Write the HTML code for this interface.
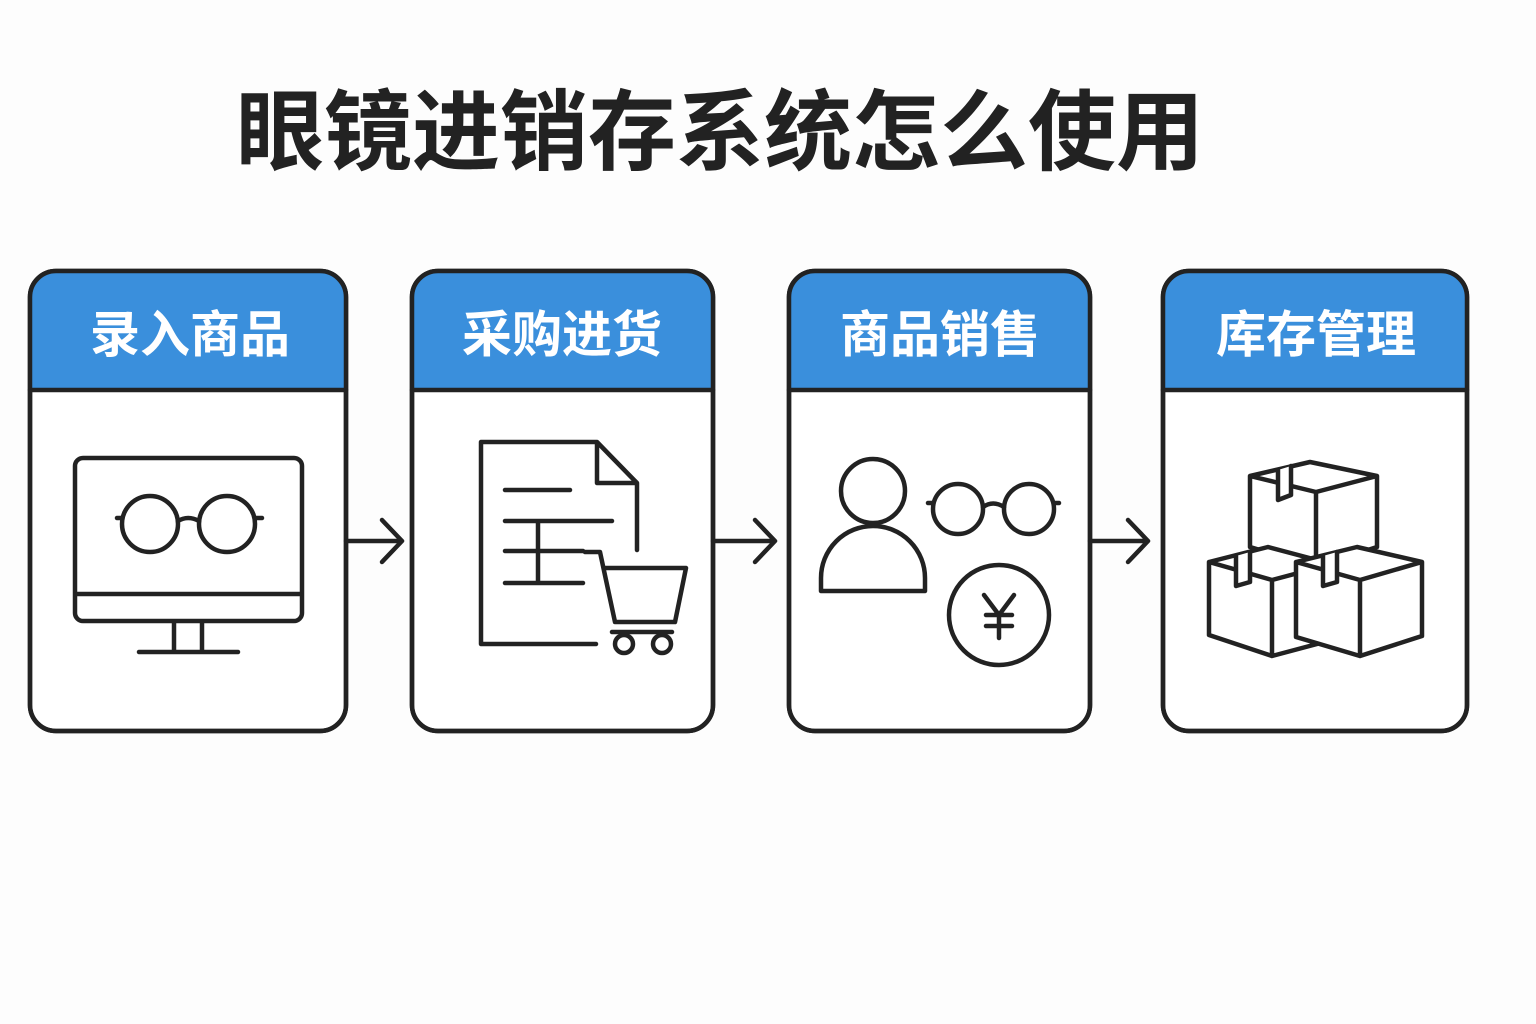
<!DOCTYPE html>
<html><head><meta charset="utf-8"><style>
html,body{margin:0;padding:0;background:#fdfdfd;}
svg{display:block}
text{font-family:"Liberation Sans","Noto Sans CJK SC",sans-serif;font-weight:bold}
</style></head><body>
<svg width="1536" height="1024" viewBox="0 0 1536 1024" xmlns="http://www.w3.org/2000/svg">
<rect width="1536" height="1024" fill="#fdfdfd"/>
<text x="720" y="163" font-size="88" fill="#222" text-anchor="middle" textLength="968" lengthAdjust="spacingAndGlyphs">眼镜进销存系统怎么使用</text>
<defs>
<clipPath id="c1"><rect x="30" y="271" width="316" height="460" rx="26"/></clipPath>
<clipPath id="c2"><rect x="412" y="271" width="301" height="460" rx="26"/></clipPath>
<clipPath id="c3"><rect x="789" y="271" width="301" height="460" rx="26"/></clipPath>
<clipPath id="c4"><rect x="1163" y="271" width="304" height="460" rx="26"/></clipPath>
</defs>
<g stroke="#222" stroke-width="4.5" fill="none" stroke-linecap="round" stroke-linejoin="round">
<rect x="30" y="271" width="316" height="460" rx="26" fill="#fff"/>
<rect x="30" y="271" width="316" height="119" fill="#3a8fdc" clip-path="url(#c1)" stroke="none"/>
<rect x="412" y="271" width="301" height="460" rx="26" fill="#fff"/>
<rect x="412" y="271" width="301" height="119" fill="#3a8fdc" clip-path="url(#c2)" stroke="none"/>
<rect x="789" y="271" width="301" height="460" rx="26" fill="#fff"/>
<rect x="789" y="271" width="301" height="119" fill="#3a8fdc" clip-path="url(#c3)" stroke="none"/>
<rect x="1163" y="271" width="304" height="460" rx="26" fill="#fff"/>
<rect x="1163" y="271" width="304" height="119" fill="#3a8fdc" clip-path="url(#c4)" stroke="none"/>
<rect x="30" y="271" width="316" height="460" rx="26"/>
<rect x="412" y="271" width="301" height="460" rx="26"/>
<rect x="789" y="271" width="301" height="460" rx="26"/>
<rect x="1163" y="271" width="304" height="460" rx="26"/>
<line x1="30" y1="390" x2="346" y2="390"/><line x1="412" y1="390" x2="713" y2="390"/>
<line x1="789" y1="390" x2="1090" y2="390"/><line x1="1163" y1="390" x2="1467" y2="390"/>
<path d="M346 541H402M382 520L402 541L382 562"/>
<path d="M713 541H773M755 520L775 541L755 562"/>
<path d="M1090 541H1148M1128 520L1148 541L1128 562"/>
<rect x="75" y="458" width="227" height="163" rx="8"/>
<line x1="77" y1="594" x2="300" y2="594"/>
<path d="M174 623V651M202 623V651M139 652H238"/>
<circle cx="150" cy="524" r="28"/><circle cx="227" cy="524" r="28"/>
<path d="M178 521Q188 515 199 521M117 518H122M255 518H262"/>
<path d="M481 442H597L637 483V550M637 483H597V442M481 442V644H596"/>
<path d="M505 490H570M505 521H612M505 551H583M505 583H583M538 521V583"/>
<path d="M585 552H600L615 622H675L686 568H604M612 632H672"/>
<circle cx="624" cy="644" r="9"/><circle cx="662" cy="644" r="9"/>
<circle cx="873" cy="491" r="32"/>
<path d="M821 591V578A52 52 0 0 1 925 578V591Z"/>
<circle cx="958" cy="509" r="25"/><circle cx="1029" cy="509" r="25"/>
<path d="M983 507Q993 500 1004 507M928 503H933M1054 503H1059"/>
<circle cx="999" cy="615" r="50"/>
<path d="M984 595L999 615L1014 595M999 615V638M986 615H1012M986 626H1012"/>
<g fill="#fff">
<path d="M1250 476L1310 462L1377 476L1316 492Z M1250 476V547L1316 567V492 M1377 476V547L1316 567"/>
<path d="M1278 470V500L1291 495V466"/>
<path d="M1209 562L1268 547L1332 564L1272 580Z M1209 562V635L1272 656V580 M1332 564V640L1272 656"/>
<path d="M1236 556V586L1250 582V552"/>
<path d="M1296 562L1357 547L1422 562L1360 580Z M1296 562V637L1360 656V580 M1422 562V636L1360 656"/>
<path d="M1323 556V586L1337 582V552"/>
</g>
</g>
<g font-size="50" fill="#fff" text-anchor="middle">
<text x="190" y="352">录入商品</text>
<text x="562" y="352">采购进货</text>
<text x="940" y="352">商品销售</text>
<text x="1316" y="352">库存管理</text>
</g>
</svg>
</body></html>
